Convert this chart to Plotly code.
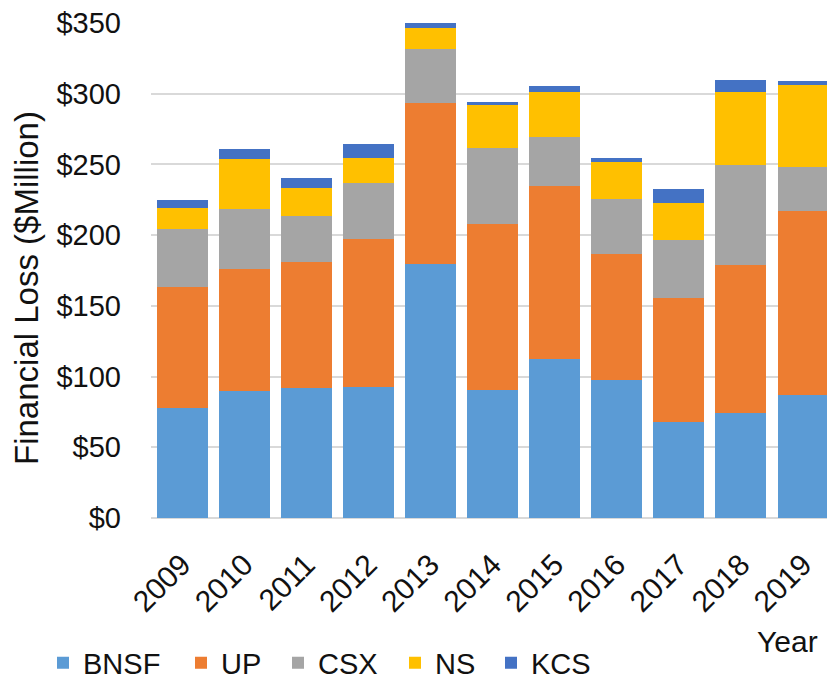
import plotly.graph_objects as go

years = ["2009", "2010", "2011", "2012", "2013", "2014", "2015", "2016", "2017", "2018", "2019"]
bnsf = [78.0, 89.8, 91.7, 92.6, 179.6, 90.5, 112.2, 97.8, 68.1, 74.0, 87.0]
up = [85.0, 86.1, 89.0, 104.7, 113.7, 117.6, 122.8, 88.9, 87.7, 104.9, 130.3]
csx = [41.0, 42.4, 33.0, 39.4, 38.2, 53.8, 34.2, 38.9, 40.8, 70.5, 30.7]
ns = [15.5, 35.6, 19.4, 18.1, 14.8, 30.0, 31.9, 26.4, 25.9, 51.7, 58.4]
kcs = [5.2, 7.1, 7.0, 9.9, 4.5, 2.5, 4.4, 2.6, 10.4, 8.7, 2.9]

names = ["BNSF", "UP", "CSX", "NS", "KCS"]
values = [bnsf, up, csx, ns, kcs]
colors = ["#5B9BD5", "#ED7D31", "#A5A5A5", "#FFC000", "#4472C4"]

y_ticks = [0, 50, 100, 150, 200, 250, 300, 350]
y_tick_text = ["$" + str(v) for v in y_ticks]

FONT = "Liberation Sans, Arial, sans-serif"

# the page body adds an 8px offset, so the figure is drawn 8px smaller
OFF = 8
W, H = 835 - OFF, 681 - OFF
L, R, T = 151 - OFF, 1, 23 - OFF
B = H - (518 - OFF)
pw = W - L - R
ph = H - T - B


def px_x(x):
    return (x - OFF - L) / pw


def px_y(y):
    return (H - B - (y - OFF)) / ph


legend_px = [43, 181, 278, 395, 491]
legend_keys = ["legend", "legend2", "legend3", "legend4", "legend5"]

fig = go.Figure()
for name, vals, color, key in zip(names, values, colors, legend_keys):
    fig.add_trace(go.Bar(x=years, y=vals, name=name, legend=key,
                         marker=dict(color=color, line=dict(width=0))))

legend_layout = {}
for key, px in zip(legend_keys, legend_px):
    legend_layout[key] = dict(
        orientation="h",
        x=px_x(px),
        xanchor="left",
        y=px_y(663),
        yanchor="middle",
        font=dict(family=FONT, size=29, color="#111111"),
        bgcolor="rgba(0,0,0,0)",
        borderwidth=0,
    )

fig.update_layout(
    barmode="stack",
    bargap=0.18,
    width=W,
    height=H,
    margin=dict(l=L, r=R, t=T, b=B, autoexpand=False),
    plot_bgcolor="white",
    paper_bgcolor="white",
    font=dict(family=FONT, size=29, color="#111111"),
    showlegend=True,
    xaxis=dict(
        tickangle=-45,
        tickfont=dict(size=30),
        showgrid=False,
        showline=False,
        ticks="",
        automargin=False,
        ticklabelstandoff=22,
        ticklabeloverflow="allow",
    ),
    yaxis=dict(
        range=[0, 350],
        tickvals=y_ticks,
        ticktext=y_tick_text,
        tickfont=dict(size=29),
        showgrid=True,
        gridcolor="#D9D9D9",
        gridwidth=1.5,
        zeroline=True,
        zerolinecolor="#D9D9D9",
        zerolinewidth=1.5,
        ticklabelstandoff=29,
        ticklabeloverflow="allow",
        automargin=False,
    ),
    annotations=[
        dict(text="Financial Loss ($Million)", textangle=-90, xref="paper", yref="paper",
             x=px_x(26), y=px_y(288), xanchor="center", yanchor="middle",
             showarrow=False, font=dict(size=33)),
        dict(text="Year", xref="paper", yref="paper", x=px_x(787), y=px_y(641),
             xanchor="center", yanchor="middle", showarrow=False, font=dict(size=30)),
    ],
    **legend_layout,
)

fig.write_html("out.html")
